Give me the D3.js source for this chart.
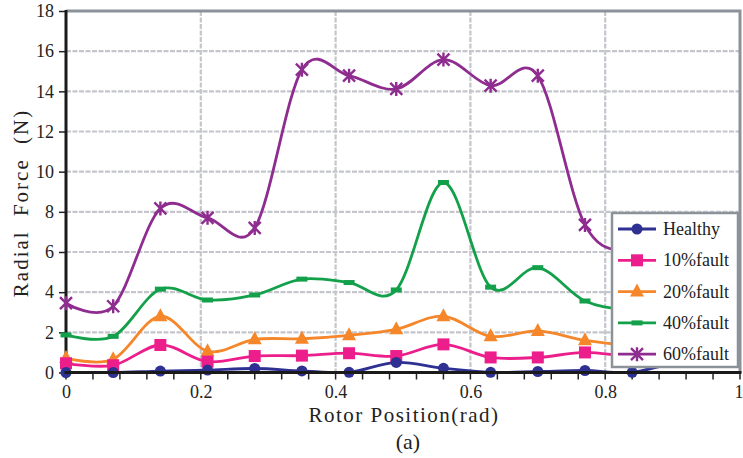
<!DOCTYPE html>
<html>
<head>
<meta charset="utf-8">
<script src="https://cdn.jsdelivr.net/npm/d3@7"></script>
<style>
  html, body { margin: 0; padding: 0; background: #fff; }
  svg text { font-family: "Liberation Serif", "Times New Roman", Tinos, "DejaVu Serif", "Noto Serif", serif; }
</style>
</head>
<body>
<svg id="chart" width="743" height="458"></svg>
<script>
// Rotor positions (rad) at which the radial force was sampled
const positions = [0, 0.07, 0.14, 0.21, 0.28, 0.35, 0.42, 0.49, 0.56, 0.63, 0.70, 0.77, 0.84, 0.91];

// Radial force (N) for each fault severity
const healthy = [0.0, 0.0, 0.07, 0.12, 0.2, 0.08, 0.01, 0.5, 0.21, 0.01, 0.05, 0.1, 0.01, 0.6];
const fault10 = [0.46, 0.36, 1.37, 0.54, 0.82, 0.84, 0.96, 0.82, 1.4, 0.75, 0.75, 1.0, 0.8, 0.9];
const fault20 = [0.72, 0.66, 2.8, 1.06, 1.65, 1.68, 1.85, 2.15, 2.8, 1.8, 2.07, 1.6, 1.35, 1.3];
const fault40 = [1.87, 1.8, 4.15, 3.61, 3.86, 4.65, 4.48, 4.11, 9.46, 4.25, 5.22, 3.56, 3.1, 3.0];
const fault60 = [3.45, 3.3, 8.17, 7.7, 7.2, 15.08, 14.78, 14.12, 15.58, 14.28, 14.78, 7.35, 5.9, 5.5];

const seriesNames = ["Healthy", "10%fault", "20%fault", "40%fault", "60%fault"];
const seriesValues = [healthy, fault10, fault20, fault40, fault60];
const seriesColors = ["#2e3192", "#ec1e8c", "#f5862a", "#13a04a", "#8e2c90"];
const seriesMarkers = ["circle", "square", "triangle", "dash", "asterisk"];

const xTicks = [0, 0.2, 0.4, 0.6, 0.8, 1];
const xTickLabels = ["0", "0.2", "0.4", "0.6", "0.8", "1"];
const yTicks = [0, 2, 4, 6, 8, 10, 12, 14, 16, 18];

const svg = d3.select("#chart");
const plot = { left: 66, right: 740, top: 11, bottom: 372.5 };

const x = d3.scaleLinear().domain([0, 1]).range([plot.left, plot.right]);
const y = d3.scaleLinear().domain([0, 18]).range([plot.bottom, plot.top]);

// Grid lines
const grid = svg.append("g");
grid.selectAll("line.h").data(yTicks.filter(v => v > 0 && v < 18)).join("line")
  .attr("x1", plot.left).attr("x2", plot.right)
  .attr("y1", d => y(d)).attr("y2", d => y(d))
  .attr("stroke", "#c4c6cc").attr("stroke-width", 2.2).attr("stroke-dasharray", "5,1.5");
grid.selectAll("line.v").data(xTicks.filter(v => v > 0 && v < 1)).join("line")
  .attr("y1", plot.top).attr("y2", plot.bottom)
  .attr("x1", d => x(d)).attr("x2", d => x(d))
  .attr("stroke", "#c4c6cc").attr("stroke-width", 2.2).attr("stroke-dasharray", "5,1.5");

// Top and right frame
svg.append("path")
  .attr("d", `M${plot.left},${y(18)}H${x(1)}V${plot.bottom}`)
  .attr("fill", "none").attr("stroke", "#8b9299").attr("stroke-width", 3);

// Y axis
const yAxis = d3.axisLeft(y).tickValues(yTicks).tickSize(7).tickPadding(5).tickFormat(d3.format("d"));
const gy = svg.append("g").attr("transform", `translate(${plot.left},0)`).call(yAxis);
gy.select(".domain").remove();
gy.selectAll(".tick line").attr("stroke", "#222").attr("stroke-width", 1.5);
gy.selectAll(".tick text").attr("font-size", 18).attr("fill", "#222").attr("font-family", null);

// X axis: minor ticks every 0.04, labels every 0.2
const xMinor = d3.range(0, 1.0001, 0.04);
svg.append("g").selectAll("line").data(xMinor).join("line")
  .attr("x1", d => x(d)).attr("x2", d => x(d))
  .attr("y1", plot.bottom).attr("y2", plot.bottom + 7)
  .attr("stroke", "#222").attr("stroke-width", 1.5);
const xAxis = d3.axisBottom(x).tickValues(xTicks).tickSize(0).tickPadding(13)
  .tickFormat((d, i) => xTickLabels[i]);
const gx = svg.append("g").attr("transform", `translate(0,${plot.bottom})`).call(xAxis);
gx.select(".domain").remove();
gx.selectAll(".tick text").attr("font-size", 18).attr("fill", "#222").attr("font-family", null);
// keep the last label inside the page edge
gx.selectAll(".tick text").filter(d => d === 1).attr("text-anchor", "end").attr("dx", 3);

// Left axis line
svg.append("line").attr("x1", plot.left).attr("x2", plot.left)
  .attr("y1", plot.top - 1).attr("y2", plot.bottom + 1.5)
  .attr("stroke", "#1a1a1a").attr("stroke-width", 3);

// Marker drawing
function drawMarker(g, type, color) {
  if (type === "circle") {
    g.append("circle").attr("r", 5.5).attr("fill", color);
  } else if (type === "square") {
    g.append("rect").attr("x", -6).attr("y", -6).attr("width", 12).attr("height", 12).attr("fill", color);
  } else if (type === "triangle") {
    g.append("path").attr("d", "M0,-8L7,5L-7,5Z").attr("fill", color);
  } else if (type === "dash") {
    g.append("rect").attr("x", -5.5).attr("y", -2.5).attr("width", 11).attr("height", 5).attr("fill", color);
  } else if (type === "asterisk") {
    g.append("path").attr("d", "M-6,-6L6,6M-6,6L6,-6M0,-7V7")
      .attr("stroke", color).attr("stroke-width", 2.4).attr("fill", "none");
  }
}

const line = d3.line().curve(d3.curveCatmullRom.alpha(0))
  .x(d => x(d[0])).y(d => y(d[1]));

// Series, drawn so the healthy trace ends on top
for (let s = seriesNames.length - 1; s >= 0; s--) {
  const pts = positions.map((p, i) => [p, seriesValues[s][i]]);
  const g = svg.append("g");
  g.append("path").attr("d", line(pts)).attr("fill", "none")
    .attr("stroke", seriesColors[s]).attr("stroke-width", 2.8);
  g.selectAll("g.m").data(pts).join("g")
    .attr("transform", d => `translate(${x(d[0])},${y(d[1])})`)
    .each(function () { drawMarker(d3.select(this), seriesMarkers[s], seriesColors[s]); });
}

// Bottom axis line on top of the traces
svg.append("line").attr("x1", plot.left - 1.5).attr("x2", plot.right + 1.5)
  .attr("y1", plot.bottom).attr("y2", plot.bottom)
  .attr("stroke", "#1a1a1a").attr("stroke-width", 3);

// Legend
const legend = svg.append("g");
legend.append("rect").attr("x", 612).attr("y", 213).attr("width", 126).attr("height", 154)
  .attr("fill", "#fff").attr("stroke", "#8b9299").attr("stroke-width", 2.5);
seriesNames.forEach((name, i) => {
  const cy = 229 + i * 31.3;
  const item = legend.append("g");
  item.append("line").attr("x1", 618).attr("x2", 656).attr("y1", cy).attr("y2", cy)
    .attr("stroke", seriesColors[i]).attr("stroke-width", 2.8);
  drawMarker(item.append("g").attr("transform", `translate(637,${cy})`), seriesMarkers[i], seriesColors[i]);
  item.append("text").attr("x", 663).attr("y", cy + 6).attr("font-size", 18)
    .attr("fill", "#222").text(name);
});

// Axis titles
svg.append("text").attr("transform", "translate(28,203) rotate(-90)")
  .attr("text-anchor", "middle").attr("font-size", 21)
  .attr("letter-spacing", 2).attr("word-spacing", 7)
  .attr("fill", "#222").text("Radial Force (N)");
svg.append("text").attr("x", 404).attr("y", 422).attr("text-anchor", "middle")
  .attr("font-size", 21).attr("letter-spacing", 1.5)
  .attr("fill", "#222").text("Rotor Position(rad)");
svg.append("text").attr("x", 408).attr("y", 449).attr("text-anchor", "middle")
  .attr("font-size", 22).attr("fill", "#222").text("(a)");
</script>
</body>
</html>
